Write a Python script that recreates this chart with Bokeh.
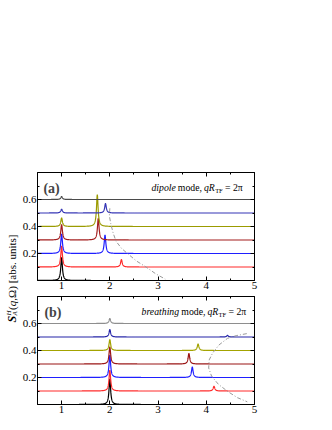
import math
import numpy as np
from bokeh.plotting import figure
from bokeh.models import Range1d, LinearAxis, FixedTicker, Label
from bokeh.layouts import row, column
from bokeh.embed import file_html
from bokeh.resources import INLINE

SERIF = "Liberation Serif"

# ---------------- data ----------------
levels = [0.0, 0.1, 0.2, 0.3, 0.4, 0.5, 0.6]          # vertical offsets of the spectra
colors_a = ["#000000", "#ff2b2b", "#1f1fff", "#a31d1d", "#9b9b00", "#3535b5", "#4a4a4a"]
colors_b = ["#000000", "#ff2b2b", "#1f1fff", "#9a1515", "#a3a300", "#2424a8", "#8e8e8e"]

# panel (a): dipole mode  -- peak positions (Omega/omega0) and heights
peaks_a_pos = [[1.0], [1.0, 2.24], [1.0, 1.90], [1.0, 1.76], [1.0, 1.74], [1.0, 1.91], [1.0]]
peaks_a_h = [[0.17], [0.155, 0.055], [0.145, 0.137], [0.115, 0.16], [0.063, 0.235], [0.028, 0.07], [0.022]]

# panel (b): breathing mode
peaks_b_pos = [[2.0], [2.0, 4.16], [2.0, 3.71], [2.0, 3.64], [2.0, 3.83], [2.0, 4.44], [2.0]]
peaks_b_h = [[0.19], [0.154, 0.035], [0.165, 0.078], [0.127, 0.078], [0.081, 0.048], [0.055, 0.012], [0.037]]

peak_hwhm = 0.02

# dash-dotted guide curves
disp_a_om = [2.0, 1.99, 2.02, 2.07, 2.13, 2.25, 2.40, 2.55, 2.75, 2.95, 3.15]
disp_a_val = [0.535, 0.48, 0.42, 0.35, 0.29, 0.235, 0.19, 0.145, 0.10, 0.05, 0.01]
disp_b_om = [4.84, 4.62, 4.44, 4.26, 4.13, 4.06, 4.05, 4.11, 4.25, 4.45, 4.65, 4.85]
disp_b_val = [0.525, 0.51, 0.49, 0.44, 0.38, 0.33, 0.27, 0.21, 0.15, 0.095, 0.05, 0.02]

x_ticks = [1, 2, 3, 4, 5]
x_minor = [1.5, 2.5, 3.5, 4.5]
y_ticks = [0.2, 0.4, 0.6]
y_minor = [0.1, 0.3, 0.5, 0.7]

X0, X1 = 0.5, 5.0
Y0, Y1 = 0.0, 0.8
FRAME_W, FRAME_H = 220, 108
PX_X = FRAME_W / (X1 - X0)
PX_Y = FRAME_H / (Y1 - Y0)

omega = np.linspace(X0, X1, 2251)


def style_axis(ax, ticks, minor, show_labels):
    ax.ticker = FixedTicker(ticks=ticks, minor_ticks=minor)
    ax.axis_line_color = "black"
    ax.axis_line_width = 1
    ax.major_tick_in = 4
    ax.major_tick_out = 0
    ax.minor_tick_in = 2
    ax.minor_tick_out = 0
    ax.major_tick_line_color = "black"
    ax.minor_tick_line_color = "black"
    if show_labels:
        ax.major_label_text_font = SERIF
        ax.major_label_text_font_size = "11px"
        ax.major_label_text_color = "black"
        ax.major_label_standoff = 1
    else:
        ax.major_label_overrides = {t: "" for t in ticks}
        ax.major_label_text_font_size = "1px"
        ax.major_label_standoff = 0


def add_runs(p, x0, y0, runs):
    for text, dx, dy, size, style in runs:
        p.add_layout(Label(x=x0 + dx / PX_X, y=y0 + dy / PX_Y, text=text,
                           text_font=SERIF, text_font_size=size, text_font_style=style,
                           text_color="black", text_align="left", text_baseline="alphabetic"))


def make_panel(height, mt, mb, pos, hts, colors, d_om, d_val):
    p = figure(width=251, height=height, x_range=Range1d(X0, X1), y_range=Range1d(Y0, Y1),
               output_backend="svg", toolbar_location=None,
               min_border_left=15, min_border_right=16, min_border_top=mt, min_border_bottom=mb)
    p.grid.visible = False
    p.outline_line_color = "black"
    p.background_fill_color = "white"
    p.border_fill_color = "white"
    style_axis(p.xaxis[0], x_ticks, x_minor, True)
    style_axis(p.yaxis[0], y_ticks, y_minor, True)
    top = LinearAxis()
    style_axis(top, x_ticks, x_minor, False)
    p.add_layout(top, "above")
    right = LinearAxis()
    style_axis(right, y_ticks, y_minor, False)
    p.add_layout(right, "right")

    for lev, cs, hs, col in zip(levels, pos, hts, colors):
        y = np.full_like(omega, lev)
        for c, h in zip(cs, hs):
            y = y + h * peak_hwhm ** 2 / ((omega - c) ** 2 + peak_hwhm ** 2)
        p.line(omega, y, line_color=col, line_width=1.2)
    p.line(d_om, d_val, line_color="#9a9a9a", line_width=1, line_dash="4 2 1 2")
    return p


pa = make_panel(294, 172, 14, peaks_a_pos, peaks_a_h, colors_a, disp_a_om, disp_a_val)
pb = make_panel(134, 2, 24, peaks_b_pos, peaks_b_h, colors_b, disp_b_om, disp_b_val)

# panel letters
pa.add_layout(Label(x=X0 + 6 / PX_X, y=0.681, text="(a)", text_font=SERIF, text_font_size="14px",
                    text_font_style="bold", text_baseline="alphabetic"))
pb.add_layout(Label(x=X0 + 7 / PX_X, y=0.681, text="(b)", text_font=SERIF, text_font_size="14px",
                    text_font_style="bold", text_baseline="alphabetic"))

# titles inside the panels
fs = "9.75px"
xa = X0 + (149.5 - 34) / PX_X
add_runs(pa, xa, 0.689, [
    ("dipole", 0, 0, fs, "italic"),
    ("mode,", 26.8, 0, fs, "normal"),
    ("q", 53.3, 0, fs, "italic"),
    ("R", 58.2, 0, fs, "italic"),
    ("TF", 64.6, -2.6, "6.5px", "normal"),
    ("= 2π", 74.6, 0, fs, "normal"),
])
xb = X0 + (139.5 - 34) / PX_X
add_runs(pb, xb, 0.689, [
    ("breathing", 0, 0, fs, "italic"),
    ("mode,", 40.3, 0, fs, "normal"),
    ("q", 66.8, 0, fs, "italic"),
    ("R", 71.7, 0, fs, "italic"),
    ("TF", 78.1, -2.6, "6.5px", "normal"),
    ("= 2π", 88.1, 0, fs, "normal"),
])

# x axis title under panel (b)
add_runs(pb, X0 + (135 - 34) / PX_X, -17 / PX_Y, [
    ("Ω/ω", 0, 0, "10px", "normal"),
    ("0", 16.0, -2.5, "6.5px", "normal"),
])

# y axis title (shared), drawn in a narrow strip left of the panels
STRIP_W, STRIP_H = 19, 428
lab = figure(width=STRIP_W, height=STRIP_H, x_range=Range1d(0, STRIP_W), y_range=Range1d(0, STRIP_H),
             output_backend="svg", toolbar_location=None, min_border=0,
             x_axis_location=None, y_axis_location=None)
lab.grid.visible = False
lab.outline_line_color = None
yb = STRIP_H - 322
xc = 11.5
for text, x, y, size, style in [
    ("S", xc, yb, "12px", "bold italic"),
    ("A", xc + 2.8, yb + 6.9, "7px", "italic"),
    ("H", xc - 3.3, yb + 6.9, "7px", "italic"),
    ("(", xc, yb + 12.6, "11px", "normal"),
    ("q", xc, yb + 16.3, "11px", "italic"),
    (",Ω) [abs. units]", xc, yb + 21.8, "11px", "normal"),
]:
    lab.add_layout(Label(x=x, y=y, text=text, angle=math.pi / 2, text_font=SERIF,
                         text_font_size=size, text_font_style=style, text_color="black",
                         text_align="left", text_baseline="middle"))

layout = row(lab, column(pa, pb))
open("out.html", "w").write(file_html(layout, INLINE))
